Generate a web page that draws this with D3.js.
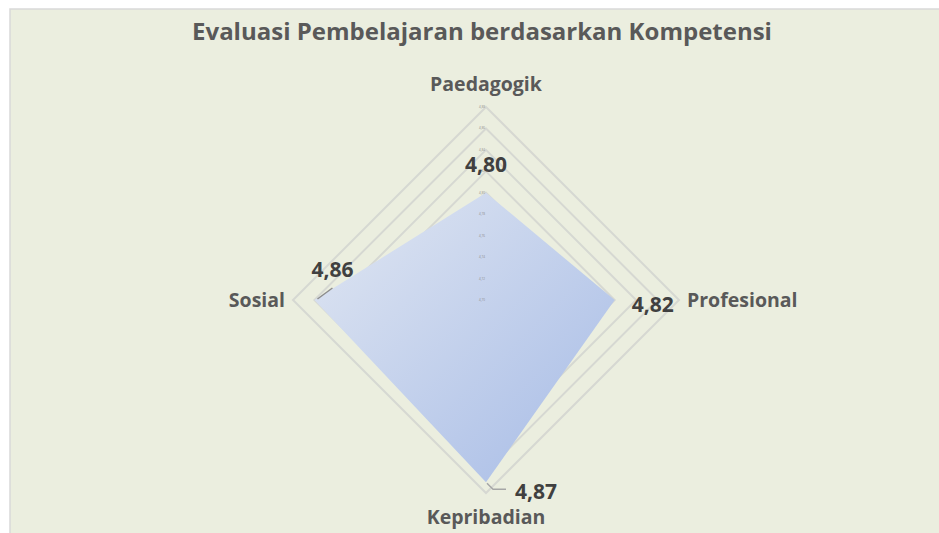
<!DOCTYPE html>
<meta charset="utf-8">
<style>
    body { margin: 0; background: #fff; }
    text { font-family: "Open Sans", "Noto Sans", sans-serif; }
</style>
<script src="https://cdn.jsdelivr.net/npm/d3@7"></script>
<body>
<svg></svg>
</body>
<script>

    var axes = ['Paedagogik', 'Profesional', 'Kepribadian', 'Sosial'];
    var values = [4.80, 4.82, 4.87, 4.86];
    var valueLabels = ['4,80', '4,82', '4,87', '4,86'];
    var ticks = [4.70, 4.72, 4.74, 4.76, 4.78, 4.80, 4.82, 4.84, 4.86, 4.88];
    var tickLabels = ['4,70', '4,72', '4,74', '4,76', '4,78', '4,80', '4,82', '4,84', '4,86', '4,88'];

    var W = 939, H = 533;
    var cx = 486, cy = 300;

    var svg = d3.select('svg').attr('width', W).attr('height', H);

    var defs = svg.append('defs');
    var grad = defs.append('linearGradient')
            .attr('id', 'fillGrad')
            .attr('x1', '0%').attr('y1', '0%')
            .attr('x2', '100%').attr('y2', '100%');
    grad.append('stop').attr('offset', '0%').attr('stop-color', '#e1e7f2');
    grad.append('stop').attr('offset', '100%').attr('stop-color', '#a6bbe6');

    // chart area
    svg.append('rect')
            .attr('x', 10).attr('y', 9)
            .attr('width', W).attr('height', H)
            .style('fill', '#ebeedf')
            .style('stroke', '#d9d9d9')
            .style('stroke-width', 1.5);

    var r = d3.scaleLinear().domain([4.70, 4.88]).range([0, 193]);
    var angle = d3.scalePoint().domain(axes).range([0, 2 * Math.PI * 3 / 4]);

    function pt(axis, v) {
        var a = angle(axis) - Math.PI / 2;
        return [cx + Math.cos(a) * r(v), cy + Math.sin(a) * r(v)];
    }

    var line = d3.line();

    // gridlines
    svg.append('g').selectAll('path')
            .data(ticks.slice(1))
            .enter().append('path')
            .attr('d', function (t) {
                return line(axes.map(function (a) { return pt(a, t); })) + 'Z';
            })
            .style('fill', 'none')
            .style('stroke', '#d6d8d2')
            .style('stroke-width', 2);

    // data area
    svg.append('path')
            .attr('d', line(axes.map(function (a, i) { return pt(a, values[i]); })) + 'Z')
            .style('fill', 'url(#fillGrad)');

    // tick labels (tiny)
    svg.append('g').selectAll('text')
            .data(ticks)
            .enter().append('text')
            .attr('x', cx - 4)
            .attr('y', function (t) { return cy - r(t) + 1; })
            .attr('text-anchor', 'middle')
            .style('font-size', '3px')
            .style('fill', '#8c8c8c')
            .text(function (t, i) { return tickLabels[i]; });

    // title
    svg.append('text')
            .attr('x', 482).attr('y', 40)
            .attr('text-anchor', 'middle')
            .style('font-size', '24px')
            .style('font-weight', 'bold')
            .style('fill', '#595959')
            .text('Evaluasi Pembelajaran berdasarkan Kompetensi');

    // axis labels
    var axisLab = [
        {dx: 0, dy: -209, anchor: 'middle'},
        {dx: 201, dy: 7, anchor: 'start'},
        {dx: 0, dy: 224, anchor: 'middle'},
        {dx: -201, dy: 7, anchor: 'end'}
    ];
    svg.append('g').selectAll('text')
            .data(axes)
            .enter().append('text')
            .attr('x', function (d, i) { return cx + axisLab[i].dx; })
            .attr('y', function (d, i) { return cy + axisLab[i].dy; })
            .attr('text-anchor', function (d, i) { return axisLab[i].anchor; })
            .style('font-size', '19.5px')
            .style('font-weight', 'bold')
            .style('fill', '#595959')
            .text(function (d) { return d; });

    // leader lines
    var s = pt('Sosial', values[3]);
    svg.append('path')
            .attr('d', 'M' + (s[0] + 3) + ',' + (s[1] - 1) + 'L' + (s[0] + 18) + ',' + (s[1] - 12))
            .style('stroke', '#8c8c8c').style('stroke-width', 1.5).style('fill', 'none');
    var k = pt('Kepribadian', values[2]);
    svg.append('path')
            .attr('d', 'M' + (k[0] + 1) + ',' + (k[1] + 1) + 'L' + (k[0] + 7) + ',' + (k[1] + 7) + 'L' + (k[0] + 20) + ',' + (k[1] + 7))
            .style('stroke', '#a6a6a6').style('stroke-width', 1.5).style('fill', 'none');

    // value labels
    var valLab = [
        {dx: 0, dy: -21},
        {dx: 38, dy: 12},
        {dx: 50, dy: 17},
        {dx: 18, dy: -23}
    ];
    svg.append('g').selectAll('text')
            .data(axes)
            .enter().append('text')
            .attr('x', function (d, i) { return pt(d, values[i])[0] + valLab[i].dx; })
            .attr('y', function (d, i) { return pt(d, values[i])[1] + valLab[i].dy; })
            .attr('text-anchor', 'middle')
            .style('font-size', '21px')
            .style('font-weight', 'bold')
            .style('fill', '#404040')
            .text(function (d, i) { return valueLabels[i]; });

</script>
</html>
